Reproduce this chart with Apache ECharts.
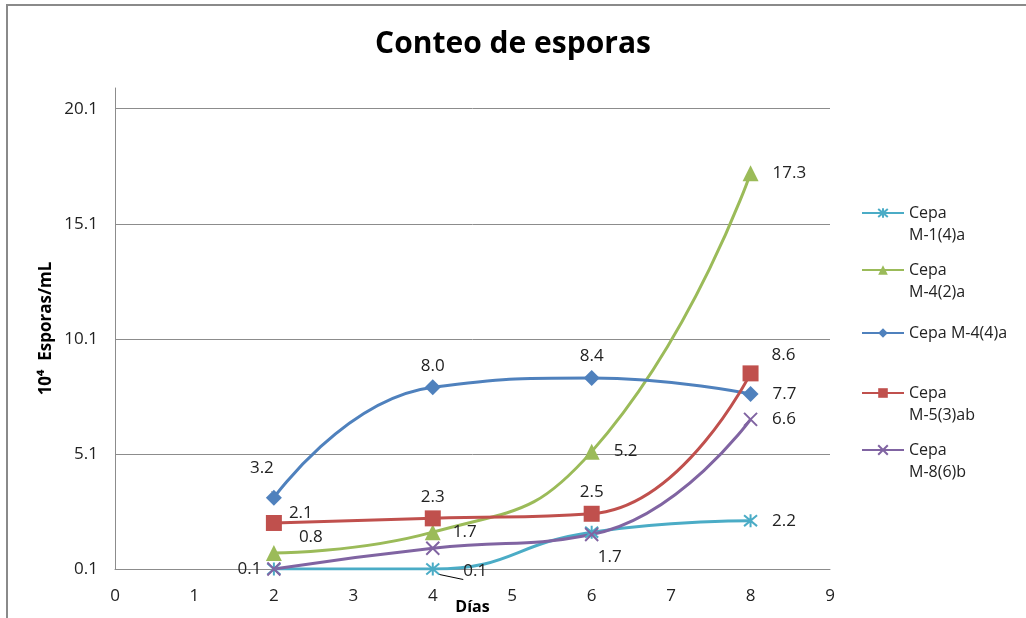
<!DOCTYPE html>
<html>
<head>
<meta charset="utf-8">
<script src="https://cdn.jsdelivr.net/npm/echarts@6/dist/echarts.min.js"></script>
<style>
  html, body { margin: 0; padding: 0; background: #fff; }
  #chart { width: 1026px; height: 618px; }
</style>
</head>
<body>
<div id="chart"></div>
<script>
// data
const days = [2, 4, 6, 8]
const seriesNames = ['Cepa M-1(4)a', 'Cepa M-4(2)a', 'Cepa M-4(4)a', 'Cepa M-5(3)ab', 'Cepa M-8(6)b']
const m14a = [0.1, 0.1, 1.7, 2.2]
const m42a = [0.8, 1.7, 5.2, 17.3]
const m44a = [3.2, 8.0, 8.4, 7.7]
const m53ab = [2.1, 2.3, 2.5, 8.6]
const m86b = [0.1, 1.0, 1.6, 6.6]
const yTicks = [0.1, 5.1, 10.1, 15.1, 20.1]

const FONT = 'Open Sans'
const chart = echarts.init(document.getElementById('chart'))

const starPath = 'path://M5,0L5,10M0.8,0.8L9.2,9.2M9.2,0.8L0.8,9.2'
const crossPath = 'path://M0,0L10,10M10,0L0,10'

// label placement per series (index -> label options), null = no label
const labelCfg = {
  'Cepa M-1(4)a': [null, { position: 'right', offset: [18, 2], labelLine: true }, { position: 'bottom', offset: [18, 4] }, { position: 'right', distance: 14 }],
  'Cepa M-4(2)a': [{ position: 'right', offset: [12, -16] }, { position: 'right', distance: 12 }, { position: 'right', distance: 14 }, { position: 'right', distance: 14 }],
  'Cepa M-4(4)a': [{ position: 'top', offset: [-12, -8], labelLine: true }, { position: 'top' }, { position: 'top' }, { position: 'right', distance: 14 }],
  'Cepa M-5(3)ab': [{ position: 'right', offset: [2, -10] }, { position: 'top' }, { position: 'top' }, { position: 'right', offset: [8, -18] }],
  'Cepa M-8(6)b': [{ position: 'left', distance: 0 }, null, null, { position: 'right', distance: 14 }]
}

function buildData(name, vals) {
  return vals.map((v, i) => {
    const c = labelCfg[name][i]
    const item = { value: [days[i], v] }
    if (!c) {
      item.label = { show: false }
    } else {
      item.label = { show: true, position: c.position, distance: c.distance || 5, offset: c.offset || [0, 0] }
      if (c.labelLine) item.labelLine = { show: true, lineStyle: { color: '#000', width: 1 } }
    }
    return item
  })
}

function mkSeries(name, vals, color, symbol, size, stroke) {
  return {
    name: name,
    type: 'line',
    smooth: 0.5,
    symbol: symbol,
    symbolSize: size,
    showAllSymbol: true,
    lineStyle: { color: color, width: 3 },
    itemStyle: stroke
      ? { color: color, borderColor: color, borderWidth: 2 }
      : { color: color },
    label: {
      show: true,
      color: '#222',
      fontFamily: FONT,
      fontSize: 17,
      formatter: p => p.value[1].toFixed(1)
    },
    emphasis: { disabled: true },
    data: buildData(name, vals)
  }
}

// icon centre y for each legend entry; wrapped names get an empty first line
// so that the icon (centred on the text block) sits on the "Cepa" line
const legendIconY = [213, 270, 333, 393, 450]
const legendText = {
  'Cepa M-1(4)a': '\nCepa\nM-1(4)a',
  'Cepa M-4(2)a': '\nCepa\nM-4(2)a',
  'Cepa M-4(4)a': 'Cepa M-4(4)a',
  'Cepa M-5(3)ab': '\nCepa\nM-5(3)ab',
  'Cepa M-8(6)b': '\nCepa\nM-8(6)b'
}
const LH = 22

const option = {
  backgroundColor: '#fff',
  animation: false,
  title: {
    text: 'Conteo de esporas',
    left: 'center',
    top: 24,
    textStyle: { fontFamily: FONT, fontSize: 30, fontWeight: 'bold', color: '#000' }
  },
  graphic: [{
    type: 'rect',
    shape: { x: 7, y: 5, width: 1100, height: 700 },
    style: { fill: 'none', stroke: '#8a8a8a', lineWidth: 2 },
    silent: true
  }],
  legend: seriesNames.map((n, i) => {
    const lines = legendText[n].split('\n').length
    return {
      data: [n],
      orient: 'vertical',
      left: 861,
      top: legendIconY[i] - lines * LH / 2,
      padding: 0,
      itemWidth: 42,
      itemHeight: 12,
      formatter: name => legendText[name],
      textStyle: { fontFamily: FONT, fontSize: 16, color: '#222', lineHeight: LH },
      selectedMode: false
    }
  }),
  grid: { left: 115, right: 196, top: 88, bottom: 49, outerBoundsMode: 'none' },
  xAxis: {
    type: 'value',
    min: 0,
    max: 9,
    interval: 1,
    name: 'Días',
    nameLocation: 'middle',
    nameGap: 30,
    nameMoveOverlap: false,
    nameTextStyle: { fontFamily: FONT, fontSize: 16, fontWeight: 'bold', color: '#000' },
    axisLine: { show: true, lineStyle: { color: '#8c8c8c', width: 1 } },
    axisTick: { show: false },
    axisLabel: { fontFamily: FONT, fontSize: 17, color: '#222', margin: 19 },
    splitLine: { show: false }
  },
  yAxis: {
    type: 'value',
    min: yTicks[0],
    max: 21,
    interval: 5,
    name: '10⁴  Esporas/mL',
    nameLocation: 'middle',
    nameGap: 60,
    nameMoveOverlap: false,
    nameRotate: 90,
    nameTextStyle: { fontFamily: FONT, fontSize: 17, fontWeight: 'bold', color: '#000' },
    axisLine: { show: true, lineStyle: { color: '#8c8c8c', width: 1 } },
    axisTick: { show: false },
    axisLabel: {
      fontFamily: FONT, fontSize: 17, color: '#222', margin: 17,
      showMaxLabel: false,
      formatter: v => v.toFixed(1)
    },
    splitLine: { show: true, showMaxLine: false, lineStyle: { color: '#8c8c8c', width: 1 } }
  },
  series: [
    mkSeries(seriesNames[0], m14a, '#4BACC6', starPath, 13, true),
    mkSeries(seriesNames[1], m42a, '#9BBB59', 'triangle', 16, false),
    mkSeries(seriesNames[2], m44a, '#4F81BD', 'diamond', 16, false),
    mkSeries(seriesNames[3], m53ab, '#C0504D', 'rect', 16, false),
    mkSeries(seriesNames[4], m86b, '#8064A2', crossPath, 13, true)
  ]
}

chart.setOption(option)
</script>
</body>
</html>
